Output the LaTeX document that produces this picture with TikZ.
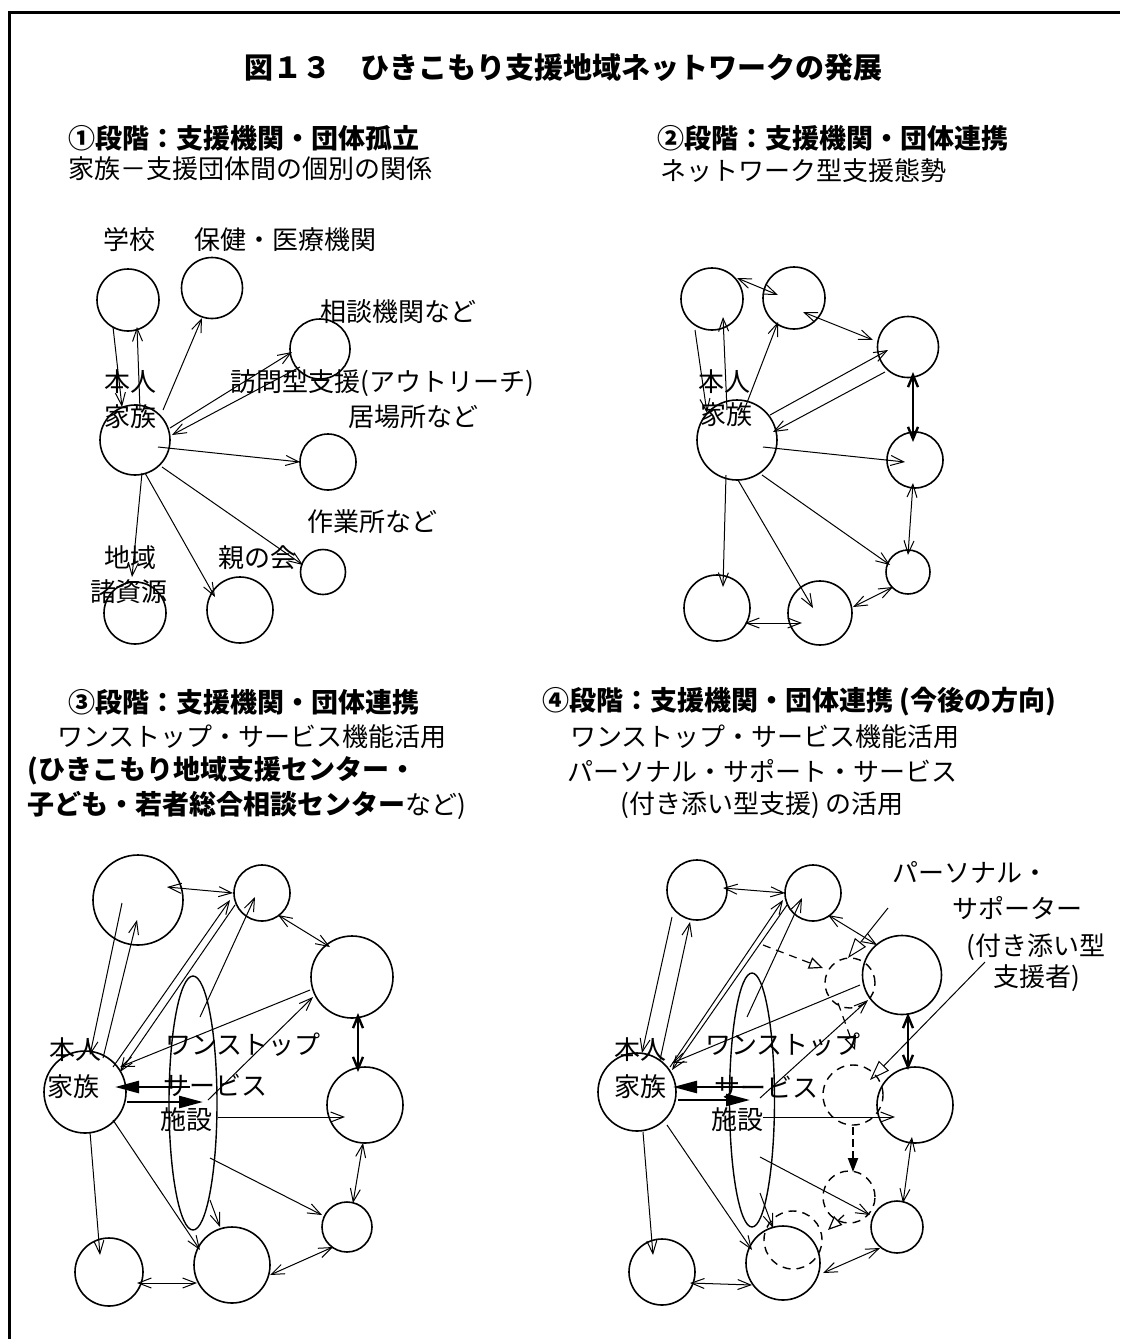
\documentclass[tikz,border=0pt]{standalone}
\usepackage{fontspec}
\newfontfamily\jp{Noto Sans CJK JP}
\usetikzlibrary{arrows.meta,calc,shapes.geometric}
\begin{document}
\begin{tikzpicture}[x=0.5pt,y=-0.5pt,
  cir/.style={circle,draw,line width=0.8pt,inner sep=0,minimum size=#1*0.5pt},
  dcir/.style={circle,draw,dashed,dash pattern=on 4pt off 3pt,line width=0.7pt,inner sep=0,minimum size=#1*0.5pt},
  ell/.style={ellipse,draw,line width=0.7pt,inner sep=0,minimum width=48*0.5pt,minimum height=254*0.5pt},
  txt/.style={font=\jp\fontsize{13}{15}\selectfont,inner sep=0},
  hd/.style={font=\jp\bfseries\fontsize{13.5}{15}\selectfont,inner sep=0,anchor=west},
  ln/.style={line width=0.5pt},
  a1/.style={ln,-{Straight Barb[length=6.5pt,width=5pt]}},
  a2/.style={ln,{Straight Barb[length=6.5pt,width=5pt]}-{Straight Barb[length=6.5pt,width=5pt]}},
  a2t/.style={line width=1.2pt,{Straight Barb[length=6pt,width=5pt]}-{Straight Barb[length=6pt,width=5pt]}},
  big/.style={line width=1.3pt,-{Triangle[length=12pt,width=6pt]}},
  dar/.style={dashed,dash pattern=on 4pt off 3pt,line width=0.6pt,-{Triangle[open,length=7pt,width=6pt]}},
  dbar/.style={dashed,dash pattern=on 4pt off 2pt,line width=1pt,-{Triangle[length=7pt,width=5pt]}},
  ptr/.style={line width=0.5pt,-{Triangle[open,length=10pt,width=7pt]}}
]
\useasboundingbox (0,0) rectangle (1120,1339);
\fill[white] (0,0) rectangle (1120,1339);
\draw[line width=1.5pt] (9.5,1339) -- (9.5,12) -- (1120,12);

% ---------- texts ----------
\node[font=\jp\bfseries\fontsize{14.5}{16}\selectfont,inner sep=0] (title) at (563,68) {図１３　ひきこもり支援地域ネットワークの発展};

\node[hd] (h1) at (68,138) {①段階：支援機関・団体孤立};
\node[txt,anchor=west] (s1) at (68,169) {家族－支援団体間の個別の関係};
\node[hd] (h2) at (657,138) {②段階：支援機関・団体連携};
\node[txt,anchor=west] (s2) at (660,171) {ネットワーク型支援態勢};
\node[hd] (h3) at (68,702) {③段階：支援機関・団体連携};
\node[txt,anchor=west] (s3a) at (57,737) {ワンストップ・サービス機能活用};
\node[hd] (s3b) at (27,771) {(ひきこもり地域支援センター・};
\node[txt,anchor=west] (s3c) at (27,805) {{\bfseries\fontsize{13.5}{15}\selectfont 子ども・若者総合相談センター}など)};
\node[hd] (h4) at (542,702) {④段階：支援機関・団体連携 (今後の方向)};
\node[txt,anchor=west] (s4a) at (570,737) {ワンストップ・サービス機能活用};
\node[txt,anchor=west] (s4b) at (567,771) {パーソナル・サポート・サービス};
\node[txt,anchor=west] (s4c) at (620,805) {(付き添い型支援) の活用};

% ---------- Quadrant 1 ----------
\node[cir=70] (q1fam) at (135,440) {};
\node[cir=62] (q1sch) at (128,300) {};
\node[cir=61] (q1hl) at (212,288) {};
\node[cir=60] (q1con) at (320,349) {};
\node[cir=56] (q1iba) at (328,462) {};
\node[cir=45] (q1sag) at (323,572) {};
\node[cir=62] (q1chi) at (135,613) {};
\node[cir=66] (q1oya) at (240,610) {};

\draw[a1] ($(q1sch)+(-15,27)$) -- ($(q1fam)+(-13,-33)$);
\draw[a1] ($(q1fam)+(5,-30)$) -- ($(q1sch)+(9,27)$);
\draw[a1] ($(q1fam)+(28,-30)$) -- ($(q1hl)+(-10,30)$);
\draw[a1] ($(q1fam)+(35,-12)$) -- ($(q1con)+(-28,3)$);
\draw[a1] ($(q1con)+(-20,18)$) -- ($(q1fam)+(37,-5)$);
\draw[a1] ($(q1fam)+(23,7)$) -- ($(q1iba)+(-28,0)$);
\draw[a1] ($(q1fam)+(27,27)$) -- ($(q1sag)+(-20,-7)$);
\draw[a1] ($(q1fam)+(10,33)$) -- ($(q1oya)+(-25,-13)$);
\draw[a1] ($(q1fam)+(7,33)$) -- ($(q1chi)+(-3,-36)$);

\node[txt] (l1a) at (129,240) {学校};
\node[txt] (l1b) at (285,240) {保健・医療機関};
\node[txt] (l1c) at (398,312) {相談機関など};
\node[txt,anchor=west] (l1d) at (230,383) {訪問型支援(アウトリーチ)};
\node[txt] (l1e) at (413,417) {居場所など};
\node[txt] (l1f) at (372,522) {作業所など};
\node[txt] (l1g) at (257,558) {親の会};
\node[txt] (l1h) at (130,558) {地域};
\node[txt] (l1i) at (129,592) {諸資源};
\node[txt] (l1j) at (130,382) {本人};
\node[txt] (l1k) at (130,417) {家族};

% ---------- Quadrant 2 ----------
\node[cir=80] (q2fam) at (737,440) {};
\node[cir=62] (q2a) at (712,299) {};
\node[cir=62] (q2b) at (794,298) {};
\node[cir=61] (q2c) at (908,347) {};
\node[cir=56] (q2d) at (915,460) {};
\node[cir=44] (q2e) at (908,572) {};
\node[cir=64] (q2f) at (820,613) {};
\node[cir=66] (q2g) at (717,608) {};

\draw[a2] ($(q2a)+(25,-21)$) -- ($(q2b)+(-16,-3)$);
\draw[a2] ($(q2b)+(9,14)$) -- ($(q2c)+(-35,-7)$);
\draw[a2t] ($(q2c)+(5,25)$) -- ($(q2d)+(-2,-18)$);
\draw[a2] ($(q2d)+(-2,23)$) -- ($(q2e)+(0,-17)$);
\draw[a2] ($(q2e)+(-15,15)$) -- ($(q2f)+(33,-6)$);
\draw[a2] ($(q2g)+(28,15)$) -- ($(q2f)+(-18,10)$);
\draw[a1] ($(q2a)+(-17,31)$) -- ($(q2fam)+(-30,-27)$);
\draw[a1] ($(q2fam)+(-10,-30)$) -- ($(q2a)+(11,18)$);
\draw[a1] ($(q2fam)+(6,-27)$) -- ($(q2b)+(-16,24)$);
\draw[a1] ($(q2fam)+(33,-25)$) -- ($(q2c)+(-20,3)$);
\draw[a1] ($(q2c)+(-23,25)$) -- ($(q2fam)+(36,-8)$);
\draw[a1] ($(q2fam)+(26,7)$) -- ($(q2d)+(-10,2)$);
\draw[a1] ($(q2fam)+(25,35)$) -- ($(q2e)+(-18,-7)$);
\draw[a1] ($(q2fam)+(1,40)$) -- ($(q2f)+(-7,-5)$);
\draw[a1] ($(q2fam)+(-11,35)$) -- ($(q2g)+(6,-21)$);

\node[txt] (l2a) at (724,382) {本人};
\node[txt] (l2b) at (726,415) {家族};

% ---------- Quadrant 3 ----------
\node[cir=82] (q3fam) at (85,1092) {};
\node[cir=90] (q3a) at (138,900) {};
\node[cir=56] (q3b) at (262,893) {};
\node[cir=82] (q3c) at (352,977) {};
\node[cir=76] (q3d) at (365,1105) {};
\node[cir=50] (q3e) at (347,1227) {};
\node[cir=76] (q3f) at (232,1265) {};
\node[cir=68] (q3g) at (109,1272) {};
\node[ell] (q3ell) at (193,1103) {};

\draw[a2] ($(q3a)+(29,-13)$) -- ($(q3b)+(-29,0)$);
\draw[a2] ($(q3b)+(16,22)$) -- ($(q3c)+(-22,-30)$);
\draw[a2t] ($(q3c)+(6,36)$) -- ($(q3d)+(-7,-33)$);
\draw[a2] ($(q3d)+(-2,38)$) -- ($(q3e)+(6,-24)$);
\draw[a2] ($(q3e)+(-14,20)$) -- ($(q3f)+(38,10)$);
\draw[a2] ($(q3g)+(28,11)$) -- ($(q3f)+(-35,18)$);
\draw[a1] ($(q3a)+(-16,3)$) -- ($(q3fam)+(5,-37)$);
\draw[a1] ($(q3fam)+(18,-34)$) -- ($(q3a)+(-1,20)$);
\draw[a1] ($(q3fam)+(28,-25)$) -- ($(q3b)+(-32,7)$);
\draw[a1] ($(q3b)+(-27,12)$) -- ($(q3fam)+(35,-20)$);
\draw[a1] ($(q3ell)+(7,-86)$) -- ($(q3b)+(-7,4)$);
\draw[a1] ($(q3c)+(-42,13)$) -- ($(q3fam)+(35,-25)$);
\draw[a1] ($(q3ell)+(15,-3)$) -- ($(q3c)+(-39,20)$);
\draw[big] ($(q3ell)+(-3,-16)$) -- ($(q3fam)+(30,-5)$);
\draw[big] ($(q3fam)+(42,10)$) -- ($(q3ell)+(10,-1)$);
\draw[a1] ($(q3ell)+(25,14)$) -- ($(q3d)+(-20,12)$);
\draw[a1] ($(q3ell)+(17,55)$) -- ($(q3e)+(-25,-12)$);
\draw[a1] ($(q3fam)+(5,40)$) -- ($(q3g)+(-9,-17)$);
\draw[a1] ($(q3fam)+(28,28)$) -- ($(q3f)+(-32,-15)$);
\draw[a1] ($(q3ell)+(17,97)$) -- ($(q3f)+(-12,-38)$);

\node[txt] (l3a) at (75,1050) {本人};
\node[txt] (l3b) at (73,1087) {家族};
\node[txt] (l3c) at (243,1045) {ワンストップ};
\node[txt] (l3d) at (215,1085) {サービス};
\node[txt] (l3e) at (186,1120) {施設};

% ---------- Quadrant 4 ----------
\node[cir=78] (q4fam) at (637,1092) {};
\node[cir=60] (q4a) at (697,890) {};
\node[cir=56] (q4b) at (813,893) {};
\node[cir=79] (q4c) at (902,975) {};
\node[cir=76] (q4d) at (915,1105) {};
\node[cir=52] (q4e) at (897,1227) {};
\node[cir=74] (q4f) at (783,1263) {};
\node[cir=66] (q4g) at (662,1272) {};
\node[ell,minimum width=45*0.5pt] (q4ell) at (752,1100) {};
\node[dcir=50] (q4p1) at (850,983) {};
\node[dcir=60] (q4p2) at (853,1095) {};
\node[dcir=52] (q4p3) at (849,1197) {};
\node[dcir=58] (q4p4) at (793,1240) {};

\draw[a2] ($(q4a)+(26,-2)$) -- ($(q4b)+(-28,0)$);
\draw[a2] ($(q4b)+(15,22)$) -- ($(q4c)+(-25,-30)$);
\draw[a2t] ($(q4c)+(6,38)$) -- ($(q4d)+(-7,-35)$);
\draw[a2] ($(q4d)+(-3,32)$) -- ($(q4e)+(6,-24)$);
\draw[a2] ($(q4e)+(-17,21)$) -- ($(q4f)+(40,10)$);
\draw[a2] ($(q4g)+(28,11)$) -- ($(q4f)+(-31,22)$);
\draw[a1] ($(q4a)+(-25,27)$) -- ($(q4fam)+(5,-39)$);
\draw[a1] ($(q4fam)+(23,-32)$) -- ($(q4a)+(-7,32)$);
\draw[a1] ($(q4fam)+(33,-25)$) -- ($(q4b)+(-30,7)$);
\draw[a1] ($(q4b)+(-26,12)$) -- ($(q4fam)+(35,-22)$);
\draw[a1] ($(q4ell)+(-5,-83)$) -- ($(q4b)+(-11,5)$);
\draw[a1] ($(q4c)+(-42,10)$) -- ($(q4fam)+(35,-29)$);
\draw[a1] ($(q4ell)+(8,-2)$) -- ($(q4c)+(-34,25)$);
\draw[big] ($(q4ell)+(-5,-13)$) -- ($(q4fam)+(36,-5)$);
\draw[big] ($(q4fam)+(41,8)$) -- ($(q4ell)+(-2,0)$);
\draw[a1] ($(q4ell)+(11,17)$) -- ($(q4d)+(-20,12)$);
\draw[a1] ($(q4ell)+(8,57)$) -- ($(q4e)+(-27,-12)$);
\draw[a1] ($(q4fam)+(6,40)$) -- ($(q4g)+(-9,-17)$);
\draw[a1] ($(q4fam)+(30,33)$) -- ($(q4f)+(-31,-13)$);
\draw[a1] ($(q4ell)+(8,93)$) -- ($(q4f)+(-10,-35)$);

\draw[dar] ($(q4p1)+(-87,-38)$) -- ($(q4p1)+(-27,-15)$);
\draw[dar] ($(q4p1)+(-12,20)$) -- ($(q4p2)+(2,-45)$);
\draw[dbar] ($(q4p2)+(0,32)$) -- ($(q4p3)+(4,-25)$);
\draw[dar] ($(q4p3)+(-5,18)$) -- ($(q4p4)+(35,-10)$);

\node[txt] (l4a) at (640,1050) {本人};
\node[txt] (l4b) at (640,1087) {家族};
\node[txt] (l4c) at (783,1045) {ワンストップ};
\node[txt] (l4d) at (766,1087) {サービス};
\node[txt] (l4e) at (737,1120) {施設};
\node[txt] (l4f) at (970,872) {パーソナル・};
\node[txt] (l4g) at (1017,908) {サポーター};
\node[txt,anchor=west] (l4h) at (966,947) {(付き添い型};
\node[txt] (l4i) at (1037,978) {支援者)};

\draw[ptr] ($(l4f)+(-82,36)$) -- ($(q4p1)+(-2,-25)$);
\draw[ptr] ($(l4h.west)+(19,15)$) -- ($(q4p2)+(17,-15)$);
\end{tikzpicture}
\end{document}
